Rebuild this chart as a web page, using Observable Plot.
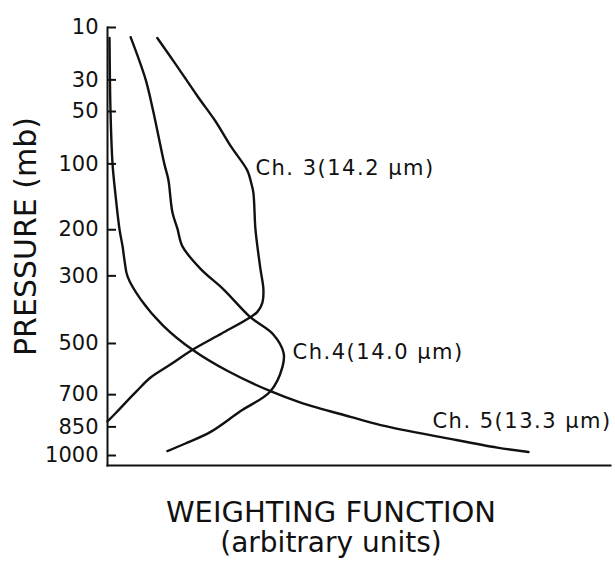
<!DOCTYPE html>
<html><head><meta charset="utf-8">
<script src="https://cdn.jsdelivr.net/npm/d3@7"></script>
<script src="https://cdn.jsdelivr.net/npm/@observablehq/plot@0.6"></script>
<style>
body{margin:0;background:#fff;}
g[aria-label="text"].curve-label text{letter-spacing:1.5px;}
</style></head><body><div id="chart"></div>
<script>
// Pressure axis ticks (mb)
const pressureTicks = [10, 30, 50, 100, 200, 300, 500, 700, 850, 1000];

// Ch. 3 (14.2 µm)
const ch3Pressure = [12.9, 22.3, 39.5, 57.8, 80.5, 108, 125, 138, 198, 233, 283, 335, 371, 398, 414, 466, 522, 577, 629, 685, 735, 784, 823];
const ch3Weight   = [9.9, 13.5, 17.9, 21.5, 24.5, 27.8, 28.6, 29.0, 29.4, 29.8, 30.4, 31.0, 30.8, 29.8, 28.4, 22.7, 16.9, 12.5, 8.5, 5.8, 3.6, 1.6, 0];

// Ch. 4 (14.0 µm)
const ch4Pressure = [12.65, 30, 50, 100, 120, 169, 198, 233, 283, 335, 414, 470, 533, 585, 685, 775, 875, 935, 976];
const ch4Weight   = [4.6, 7.6, 9.1, 11.3, 12.1, 12.9, 13.9, 14.9, 18.5, 23.1, 28.4, 33.0, 35.0, 34.8, 32.4, 26.4, 20.5, 15.5, 11.9];

// Ch. 5 (13.3 µm)
const ch5Pressure = [12.9, 50, 100, 142, 200, 233, 265, 302, 362, 441, 522, 602, 685, 735, 801, 841, 908, 957, 981];
const ch5Weight   = [0.4, 0.6, 1.0, 1.6, 2.4, 3.0, 3.4, 4.0, 6.6, 11.1, 16.9, 23.9, 32.4, 38.4, 48.3, 54.3, 67.6, 77.5, 83.7];

// Curve labels
const labelText     = ["Ch. 3(14.2 μm)", "Ch.4(14.0 μm)", "Ch. 5(13.3 μm)"];
const labelWeight   = [29.4, 36.8, 64.6];
const labelPressure = [105, 530, 823];

const toRows = (P, W) => P.map((p, i) => ({p, w: W[i]}));
const series = [toRows(ch3Pressure, ch3Weight), toRows(ch4Pressure, ch4Weight), toRows(ch5Pressure, ch5Weight)];
const labels = labelText.map((t, i) => ({t, w: labelWeight[i], p: labelPressure[i]}));

const chart = Plot.plot({
  width: 615,
  height: 563,
  marginLeft: 107,
  marginRight: 5,
  marginTop: 27,
  marginBottom: 98,
  style: {fontFamily: "'DejaVu Sans', sans-serif", background: "white", color: "#111"},
  x: {domain: [0, 100], axis: null},
  y: {type: "pow", exponent: 0.33, domain: [10, 1000], reverse: true, insetBottom: 10},
  marks: [
    Plot.frame({anchor: "left", stroke: "#111", strokeWidth: 2}),
    Plot.frame({anchor: "bottom", stroke: "#111", strokeWidth: 2}),
    Plot.axisY(pressureTicks, {tickSize: -9, tickPadding: 18, fontSize: 21, label: null, tickFormat: d => String(d), strokeWidth: 2, stroke: "#111", fill: "#111"}),
    ...series.map(rows => Plot.line(rows, {x: "w", y: "p", curve: "catmull-rom", stroke: "#111", strokeWidth: 2.4})),
    Plot.text(labels, {x: "w", y: "p", text: "t", textAnchor: "start", lineAnchor: "middle", fontSize: 21, fill: "#111", className: "curve-label"}),
    Plot.text(["WEIGHTING FUNCTION"], {text: d => d, frameAnchor: "bottom", textAnchor: "middle", lineAnchor: "bottom", dx: -28, dy: 56, fontSize: 29, fill: "#111"}),
    Plot.text(["(arbitrary units)"], {text: d => d, frameAnchor: "bottom", textAnchor: "middle", lineAnchor: "bottom", dx: -28, dy: 86, fontSize: 28, fill: "#111"}),
    Plot.text(["PRESSURE (mb)"], {text: d => d, frameAnchor: "left", textAnchor: "middle", rotate: -90, lineAnchor: "middle", dx: -81, dy: -10, fontSize: 30, fill: "#111"})
  ]
});
document.getElementById("chart").appendChild(chart);
</script></body></html>
